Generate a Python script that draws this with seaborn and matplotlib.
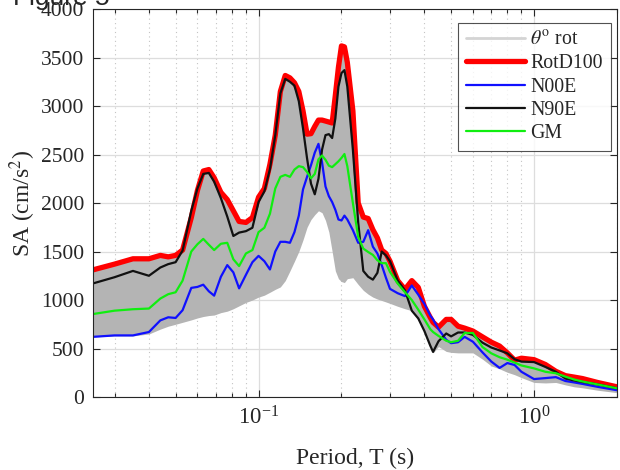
import numpy as np
import pandas as pd
import matplotlib
matplotlib.use("Agg")
import matplotlib.pyplot as plt
import seaborn as sns
from matplotlib.lines import Line2D
from matplotlib.ticker import LogLocator, LogFormatterMathtext, NullFormatter, MultipleLocator

# Response spectra (period in s, SA in cm/s^2)
period = [0.025, 0.03, 0.035, 0.04, 0.044, 0.047, 0.05, 0.053, 0.057, 0.06,
          0.063, 0.066, 0.069, 0.073, 0.077, 0.081, 0.085, 0.09, 0.095, 0.1,
          0.105, 0.11, 0.115, 0.12, 0.125, 0.13, 0.135, 0.14, 0.145, 0.15,
          0.155, 0.16, 0.165, 0.17, 0.175, 0.18, 0.185, 0.19, 0.195, 0.2,
          0.205, 0.21, 0.22, 0.23, 0.24, 0.25, 0.26, 0.27, 0.28, 0.29,
          0.3, 0.32, 0.34, 0.36, 0.38, 0.4, 0.42, 0.43, 0.45, 0.48,
          0.5, 0.53, 0.56, 0.6, 0.65, 0.7, 0.75, 0.8, 0.85, 0.9,
          1.0, 1.1, 1.2, 1.3, 1.4, 1.5, 1.7, 2.0]

rotd100 = [1310, 1370, 1425, 1425, 1460, 1445, 1460, 1515, 1850, 2130,
           2330, 2345, 2260, 2110, 2035, 1920, 1810, 1800, 1850, 2060,
           2150, 2400, 2700, 3150, 3315, 3290, 3240, 3150, 2950, 2710,
           2715, 2790, 2855, 2855, 2845, 2835, 2825, 3110, 3400, 3620,
           3610, 3450, 2950, 2000, 1855, 1840, 1725, 1640, 1515, 1480,
           1400, 1200, 1110, 1200, 1130, 935, 820, 770, 720, 800,
           800, 730, 710, 680, 620, 565, 525, 455, 380, 400,
           385, 335, 265, 220, 205, 190, 150, 105]

# lower edge of the band of rotated components
rot_min = [620, 630, 630, 650, 700, 730, 750, 770, 795, 815,
           830, 840, 845, 870, 885, 910, 940, 975, 1000, 1030,
           1050, 1080, 1110, 1135, 1200, 1300, 1400, 1500, 1620, 1750,
           1830, 1880, 1920, 1900, 1820, 1700, 1500, 1300, 1220, 1190,
           1180, 1220, 1230, 1160, 1100, 1060, 1030, 1010, 995, 980,
           965, 935, 910, 890, 800, 680, 520, 455, 520, 470,
           460, 455, 455, 455, 390, 320, 290, 255, 230, 200,
           150, 145, 150, 125, 105, 95, 70, 45]

n00e = [620, 635, 635, 670, 790, 822, 815, 895, 1125, 1135,
        1158, 1090, 1045, 1240, 1360, 1285, 1120, 1260, 1390, 1455,
        1400, 1315, 1500, 1600, 1600, 1590, 1700, 1870, 2140, 2270,
        2390, 2520, 2610, 2420, 2170, 2070, 2010, 1930, 1830, 1820,
        1870, 1830, 1720, 1590, 1600, 1720, 1550, 1480, 1360, 1230,
        1115, 1070, 1040, 1150, 1055, 960, 840, 800, 700, 590,
        555, 565, 620, 570, 460, 365, 300, 350, 330, 260,
        185, 195, 205, 165, 150, 135, 105, 70]

n90e = [1170, 1235, 1300, 1250, 1335, 1370, 1390, 1510, 1920, 2150,
        2300, 2310, 2220, 2050, 1860, 1660, 1695, 1710, 1745, 2010,
        2120, 2350, 2700, 3130, 3280, 3250, 3210, 3050, 2770, 2460,
        2200, 2090, 2250, 2550, 2700, 2710, 2670, 2870, 3200, 3340,
        3370, 3200, 2550, 1800, 1300, 1240, 1210, 1280, 1500, 1460,
        1400, 1200, 1100, 890, 810, 680, 530, 465, 575, 655,
        625, 665, 665, 640, 560, 510, 480, 450, 390, 365,
        360, 310, 260, 190, 170, 155, 130, 90]

gm = [855, 890, 905, 912, 1015, 1060, 1080, 1200, 1500, 1575,
      1630, 1570, 1515, 1580, 1590, 1420, 1350, 1480, 1515, 1700,
      1745, 1890, 2150, 2270, 2290, 2270, 2345, 2380, 2370, 2320,
      2255, 2300, 2450, 2490, 2445, 2385, 2370, 2400, 2430, 2465,
      2505, 2380, 2000, 1650, 1530, 1495, 1465, 1410, 1380, 1380,
      1290, 1170, 1080, 1000, 900, 800, 700, 670, 630, 580,
      565, 580, 660, 660, 515, 450, 410, 385, 355, 325,
      295, 260, 245, 210, 180, 160, 130, 90]

df = pd.DataFrame({"period": period, "RotD100": rotd100, "rot_min": rot_min,
                   "N00E": n00e, "N90E": n90e, "GM": gm})

sns.set_theme(style="ticks")
plt.rcParams.update({
    "font.family": ["Liberation Serif", "DejaVu Serif"],
    "mathtext.fontset": "stix",
    "axes.edgecolor": "#262626",
    "axes.linewidth": 0.8,
    "xtick.color": "#262626",
    "ytick.color": "#262626",
})

fig = plt.figure(figsize=(6.2, 4.7), dpi=100)
ax = fig.add_axes([0.1495, 0.1553, 0.8456, 0.8255])

# band of rotated components
ax.fill_between(df["period"], df["rot_min"], df["RotD100"], color="#b4b4b4", lw=0)

styles = [("RotD100", "#ff0000", 3.8), ("N00E", "#1010ff", 1.6),
          ("N90E", "#111111", 1.6), ("GM", "#10ee10", 1.6)]
for col, color, lw in styles:
    sns.lineplot(data=df, x="period", y=col, color=color, lw=lw, ax=ax,
                 estimator=None, legend=False)

ax.set_xscale("log")
ax.set_xlim(0.025, 2)
ax.set_ylim(0, 4000)
ax.yaxis.set_major_locator(MultipleLocator(500))
ax.xaxis.set_major_locator(LogLocator(base=10))
ax.xaxis.set_major_formatter(LogFormatterMathtext())
ax.xaxis.set_minor_locator(LogLocator(base=10, subs=np.arange(2, 10)))
ax.xaxis.set_minor_formatter(NullFormatter())

ax.set_axisbelow(True)
ax.grid(which="major", color="#dddddd", lw=0.9, ls="-")
ax.grid(which="minor", axis="x", color="#c4c4c4", lw=0.8, ls=(0, (1, 3)))
ax.tick_params(which="both", direction="in", top=True, right=True, width=0.8)
ax.tick_params(which="major", length=5)
ax.tick_params(which="minor", length=3)
ax.tick_params(axis="y", labelsize=15.5, pad=6)
ax.tick_params(axis="x", labelsize=16.5, pad=7)

ax.set_xlabel("Period, T (s)", fontsize=17, labelpad=13)
ax.set_ylabel(r"SA (cm/s$^2$)", fontsize=17, labelpad=2)

handles = [Line2D([], [], color="#d4d4d4", lw=2.0, label=r"$\theta^{\rm o}$ rot"),
           Line2D([], [], color="#ff0000", lw=3.8, label="RotD100"),
           Line2D([], [], color="#1010ff", lw=1.6, label="N00E"),
           Line2D([], [], color="#111111", lw=1.6, label="N90E"),
           Line2D([], [], color="#10ee10", lw=1.6, label="GM")]
leg = ax.legend(handles=handles, loc="upper right", bbox_to_anchor=(0.988, 0.964),
                borderaxespad=0, frameon=True, fancybox=False, fontsize=14.3,
                handlelength=3.0, handletextpad=0.25, labelspacing=0.22,
                borderpad=0.4)
leg.get_frame().set_edgecolor("#262626")
leg.get_frame().set_linewidth(0.8)

# figure caption, partly cut off at the top as in the source
fig.text(13 / 620, 1 - 5 / 470, "Figure 5", fontsize=19,
         family=["Liberation Sans", "DejaVu Sans"], va="baseline", ha="left")

fig.savefig("out.png", dpi=100)
